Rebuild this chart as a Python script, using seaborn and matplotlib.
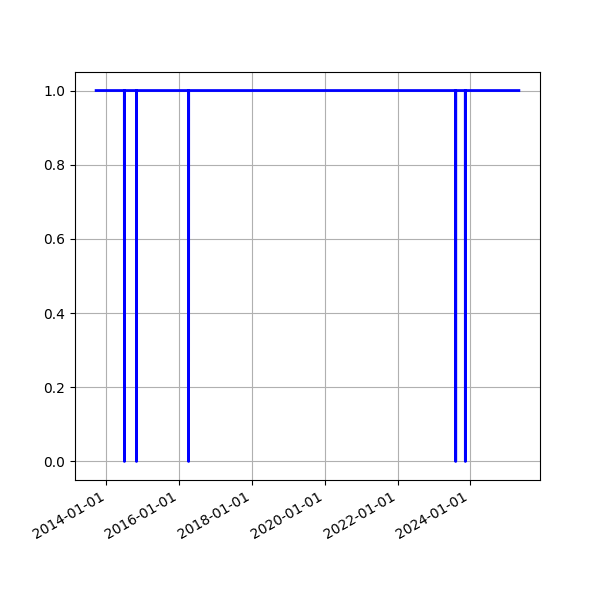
import matplotlib
matplotlib.use("Agg")
import matplotlib.pyplot as plt
import matplotlib.dates as mdates
import seaborn as sns
import pandas as pd

dates = [
    "2013-09-20",
    "2014-06-30", "2014-07-01", "2014-07-02",
    "2014-10-29", "2014-10-30", "2014-10-31",
    "2016-04-04", "2016-04-05", "2016-04-06",
    "2023-08-07", "2023-08-08", "2023-08-09",
    "2023-11-12", "2023-11-13", "2023-11-14",
    "2025-05-03",
]
values = [
    1.0,
    1.0, 0.0, 1.0,
    1.0, 0.0, 1.0,
    1.0, 0.0, 1.0,
    1.0, 0.0, 1.0,
    1.0, 0.0, 1.0,
    1.0,
]

df = pd.DataFrame({"date": pd.to_datetime(dates), "value": values})

fig, ax = plt.subplots(figsize=(6, 6), dpi=100)
sns.lineplot(data=df, x="date", y="value", ax=ax, color="blue", linewidth=2,
             estimator=None, sort=True)
ax.set_xlabel("")
ax.set_ylabel("")
ax.grid(True)
ax.xaxis.set_major_locator(mdates.YearLocator(2))
ax.xaxis.set_major_formatter(mdates.DateFormatter("%Y-%m-%d"))
fig.autofmt_xdate()
fig.savefig("out.png", dpi=100)
